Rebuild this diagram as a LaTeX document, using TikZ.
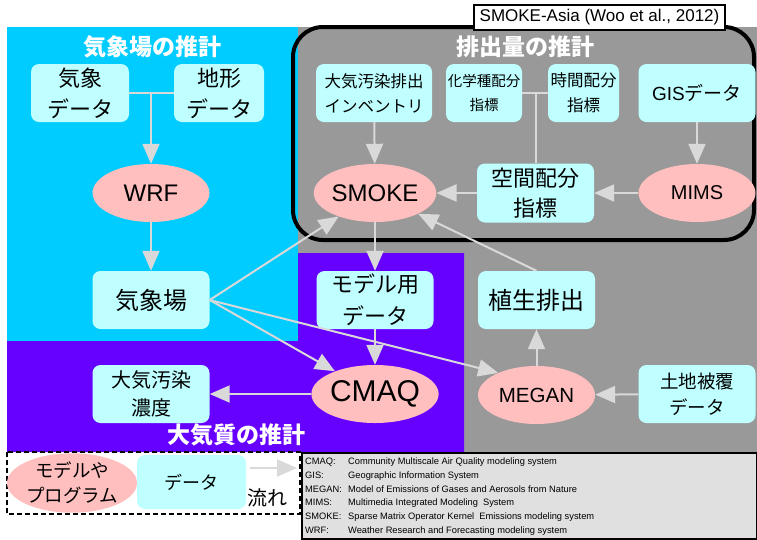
\documentclass[tikz,border=0pt]{standalone}
\usepackage{fontspec}
\usepackage{pgf, tikz}
\usepackage{color}
\setmainfont{Liberation Sans}
\newfontfamily\jp{Noto Sans CJK JP}
\usetikzlibrary{arrows.meta,shapes.geometric}
\definecolor{metcyan}{RGB}{0,204,255}
\definecolor{airpurple}{RGB}{102,0,255}
\definecolor{emisgray}{RGB}{153,153,153}
\definecolor{databox}{RGB}{191,255,255}
\definecolor{modelpink}{RGB}{255,191,191}
\definecolor{flowgray}{RGB}{217,217,217}
\definecolor{notegray}{RGB}{224,224,224}
\newcommand{\jpsize}[2]{\fontsize{#1}{#2}\selectfont}

\begin{document}
\begin{tikzpicture}[x=1pt,y=-1pt,
	data/.style={rectangle,rounded corners=8pt,fill=databox,inner sep=0pt,align=center,minimum width=117pt,minimum height=58pt},
	model/.style={ellipse,fill=modelpink,inner sep=0pt,align=center,minimum width=117pt,minimum height=58pt},
	conn/.style={draw=flowgray,line width=2pt},
	flow/.style={conn,-{Triangle[length=20pt,width=17pt]}},
	title/.style={text=white,inner sep=0pt,font=\jp\bfseries\jpsize{23}{28}}]
	\useasboundingbox (0,0) rectangle (757,539);
	% regions
	\fill[metcyan] (7,27) rectangle (298,341);
	\fill[emisgray] (298,27) rectangle (757,452);
	\fill[airpurple] (7,341) -- (298,341) -- (298,253) -- (464,253) -- (464,452) -- (7,452) -- cycle;
	\draw[line width=4pt,rounded corners=30pt] (293,27) rectangle (754,240);
	\node[title] (mettitle) at (152,47) {気象場の推計};
	\node[title] (emistitle) at (525,47) {排出量の推計};
	\node[title] (airtitle) at (236,435) {大気質の推計};

	% meteorology
	\node[data,minimum width=98pt,font=\jp\jpsize{22}{31}] (kishoudata) at (80,93) {気象\\データ};
	\node[data,minimum width=90pt,font=\jp\jpsize{22}{31}] (chikei) at (219,93) {地形\\データ};
	\node[model,font=\jpsize{24}{28}] (wrf) at (151,193) {WRF};
	\node[data,font=\jp\jpsize{24}{28}] (kishouba) at (151,300) {気象場};

	% emissions
	\node[data,minimum width=116pt,font=\jp\jpsize{16.5}{25}] (inventory) at (374,93) {大気汚染排出\\インベントリ};
	\node[data,minimum width=76pt,font=\jp\jpsize{14.5}{24}] (kagaku) at (484,93) {化学種配分\\指標};
	\node[data,minimum width=71pt,font=\jp\jpsize{16.5}{25}] (jikan) at (583.5,93) {時間配分\\指標};
	\node[data,font=\jp\jpsize{19}{24}] (gis) at (697,93) {{\rmfamily GIS}データ};
	\node[model,font=\jpsize{24}{28}] (smoke) at (375,193) {SMOKE};
	\node[data,minimum height=59pt,font=\jp\jpsize{22}{30}] (kukan) at (535.5,193) {空間配分\\指標};
	\node[model,font=\jpsize{20}{24}] (mims) at (697,193) {MIMS};
	\node[data,font=\jp\jpsize{24}{28}] (shokusei) at (536.5,300) {植生排出};
	\node[model,font=\jpsize{20.5}{24}] (megan) at (536.5,395) {MEGAN};
	\node[data,font=\jp\jpsize{18.5}{26}] (tochi) at (697,394) {土地被覆\\データ};

	% air quality
	\node[data,font=\jp\jpsize{22}{32}] (modeldata) at (375,300) {モデル用\\データ};
	\node[model,font=\jpsize{30}{34}] (cmaq) at (375,394) {CMAQ};
	\node[data,font=\jp\jpsize{20}{28}] (noudo) at (151,394) {大気汚染\\濃度};

	% flows
	\draw[conn] (kishoudata.east) -- (chikei.west);
	\coordinate (metjoin) at (kishoudata.east -| wrf.north);
	\draw[flow] (metjoin) -- (wrf);
	\draw[flow] (wrf) -- (kishouba);
	\draw[flow] (kishouba.east) -- (smoke);
	\draw[flow] (kishouba.east) -- (cmaq);
	\draw[flow] (kishouba.east) -- (megan.150);
	\draw[flow] (inventory) -- (smoke);
	\draw[conn] (kagaku.east) -- (jikan.west);
	\coordinate (emisjoin) at (kagaku.east -| kukan.north);
	\draw[conn] (emisjoin) -- (kukan.north);
	\draw[flow] (kukan) -- (smoke);
	\draw[flow] (gis) -- (mims);
	\draw[flow] (mims) -- (kukan);
	\draw[flow] (smoke) -- (modeldata);
	\draw[flow] (modeldata) -- (cmaq);
	\draw[flow] (cmaq) -- (noudo);
	\draw[flow] (shokusei.north) -- (smoke);
	\draw[flow] (megan) -- (shokusei);
	\draw[flow] (tochi) -- (megan);

	\node[draw,fill=white,line width=1.5pt,minimum width=251pt,minimum height=25pt,inner sep=0pt,font=\jpsize{17}{20}] (asia) at (599.5,17.5) {SMOKE-Asia (Woo et al., 2012)};

	% legend
	\draw[dash pattern=on 5pt off 3pt,line width=1.2pt] (7,452) rectangle (300,514);
	\node[model,minimum width=124pt,minimum height=50pt,font=\jp\jpsize{18.5}{25}] (legmodel) at (72,483) {モデルや\\プログラム};
	\node[data,minimum width=109pt,minimum height=54pt,font=\jp\jpsize{18}{24}] (legdata) at (191.5,482) {データ};
	\coordinate (legfrom) at (250,468);
	\coordinate (legto) at (297,468);
	\draw[flow] (legfrom) -- (legto);
	\node[font=\jp\jpsize{20}{24},inner sep=0pt] (legflow) at (267,498) {流れ};

	\draw[fill=notegray,line width=1.5pt] (302,453) rectangle (757,539);
	\node[anchor=north west,inner sep=0pt,font=\jpsize{9.3}{13.7}] (notes) at (305,455) {%
		\begin{tabular}{@{}p{43pt}@{}l@{}}
			CMAQ: & Community Multiscale Air Quality modeling system\\
			GIS: & Geographic Information System\\
			MEGAN: & Model of Emissions of Gases and Aerosols from Nature\\
			MIMS: & Multimedia Integrated Modeling\ \ System\\
			SMOKE: & Sparse Matrix Operator Kernel\ \ Emissions modeling system\\
			WRF: & Weather Research and Forecasting modeling system
		\end{tabular}};
\end{tikzpicture}
\end{document}
